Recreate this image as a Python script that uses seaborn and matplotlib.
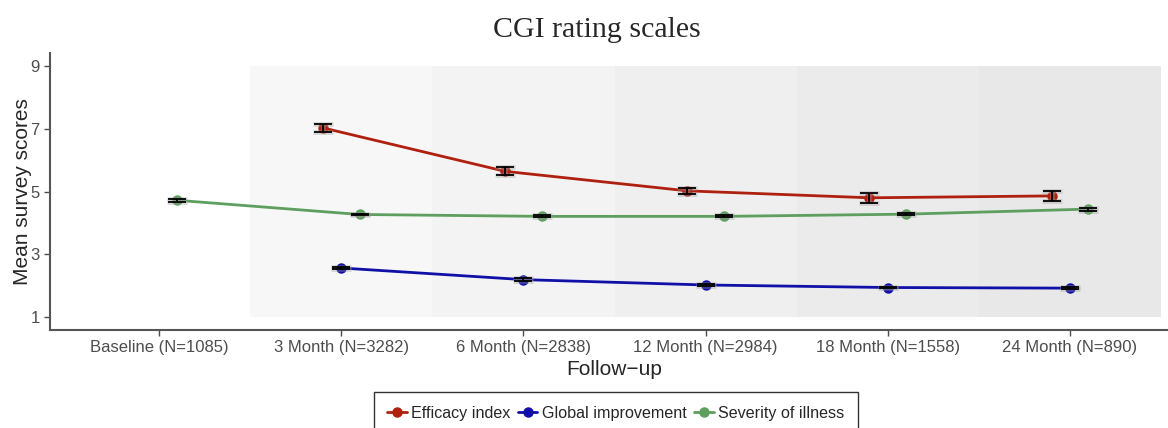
import numpy as np
import pandas as pd
import seaborn as sns
from matplotlib import pyplot as plt

# follow-up categories and group sizes
visits = ["Baseline (N=1085)", "3 Month (N=3282)", "6 Month (N=2838)",
          "12 Month (N=2984)", "18 Month (N=1558)", "24 Month (N=890)"]

# mean scores, baseline only for severity
efficacy = [np.nan, 7.02, 5.64, 5.02, 4.80, 4.86]
efficacy_se = [np.nan, 0.14, 0.13, 0.10, 0.15, 0.16]
global_impr = [np.nan, 2.57, 2.20, 2.03, 1.95, 1.93]
global_se = [np.nan, 0.04, 0.04, 0.04, 0.03, 0.03]
severity = [4.72, 4.27, 4.21, 4.21, 4.28, 4.44]
severity_se = [0.04, 0.03, 0.03, 0.03, 0.04, 0.05]

scales = ["Efficacy index", "Global improvement", "Severity of illness"]
colors = {"Efficacy index": "#B0200F",
          "Global improvement": "#1010A8",
          "Severity of illness": "#5E9E5E"}
band_shades = ["#F7F7F7", "#F3F3F3", "#EFEFEF", "#EBEBEB", "#E8E8E8"]

means = dict(zip(scales, [efficacy, global_impr, severity]))
ses = dict(zip(scales, [efficacy_se, global_se, severity_se]))

rows = []
for s in scales:
    for v, m, e in zip(visits, means[s], ses[s]):
        if not np.isnan(m):
            rows.append({"Follow-up": v, "Scale": s, "Score": m, "SE": e})
df = pd.DataFrame(rows)

sns.set_style("white")
plt.rcParams["font.family"] = ["Liberation Sans", "DejaVu Sans"]

fig = plt.figure(figsize=(11.68, 4.28), dpi=100)
ax = fig.add_axes([50 / 1168, (428 - 330) / 428, 1129 / 1168, 277 / 428])

# shaded background bands behind the follow-up visits
for i, shade in enumerate(band_shades, start=1):
    ax.bar(i, 8, bottom=1, width=1, color=shade, linewidth=0, zorder=0)

dodge = 0.2
offsets = np.linspace(-dodge / 2, dodge / 2, len(scales))

sns.pointplot(data=df, x="Follow-up", y="Score", hue="Scale",
              order=visits, hue_order=scales, palette=colors,
              errorbar=None, dodge=dodge, markers="o", markersize=6,
              linewidth=2, ax=ax, zorder=3)

# standard error bars
for off, s in zip(offsets, scales):
    sub = df[df["Scale"] == s]
    xs = np.array([visits.index(v) for v in sub["Follow-up"]]) + off
    ax.errorbar(xs, sub["Score"], yerr=sub["SE"], fmt="none",
                ecolor="#999999", elinewidth=3.5, capsize=7, capthick=3.5,
                alpha=0.35, zorder=4)
    ax.errorbar(xs, sub["Score"], yerr=sub["SE"], fmt="none",
                ecolor="black", elinewidth=1.3, capsize=6.5, capthick=1.3,
                zorder=5)

ax.set_xlim(-0.6, 5.6)
ax.set_ylim(0.6, 9.4)
ax.set_yticks([1, 3, 5, 7, 9])
ax.set_xlabel("Follow\u2212up", fontsize=15, labelpad=4)
ax.set_ylabel("Mean survey scores", fontsize=15, labelpad=-1)
ax.tick_params(axis="both", colors="#4D4D4D", labelsize=12, length=4,
               width=1, bottom=True, left=True)
ax.tick_params(axis="x", pad=3)
for side in ["top", "right"]:
    ax.spines[side].set_visible(False)
for side in ["left", "bottom"]:
    ax.spines[side].set_color("#555555")
    ax.spines[side].set_linewidth(1.5)
ax.grid(False)

handles, labels = ax.get_legend_handles_labels()
ax.get_legend().remove()
leg = fig.legend(handles, labels, loc="upper center", ncol=3,
                 bbox_to_anchor=(616 / 1168, (428 - 392) / 428),
                 borderaxespad=0, frameon=True, fancybox=False,
                 fontsize=11.6, handlelength=1.2, handletextpad=0.3,
                 columnspacing=0.45, borderpad=0.85)
leg.get_frame().set_edgecolor("black")
leg.get_frame().set_linewidth(1.0)

fig.suptitle("CGI rating scales", family="Liberation Serif", fontsize=21.5,
             x=597 / 1168, y=0.961, va="top")

fig.savefig("out.png", dpi=100)
